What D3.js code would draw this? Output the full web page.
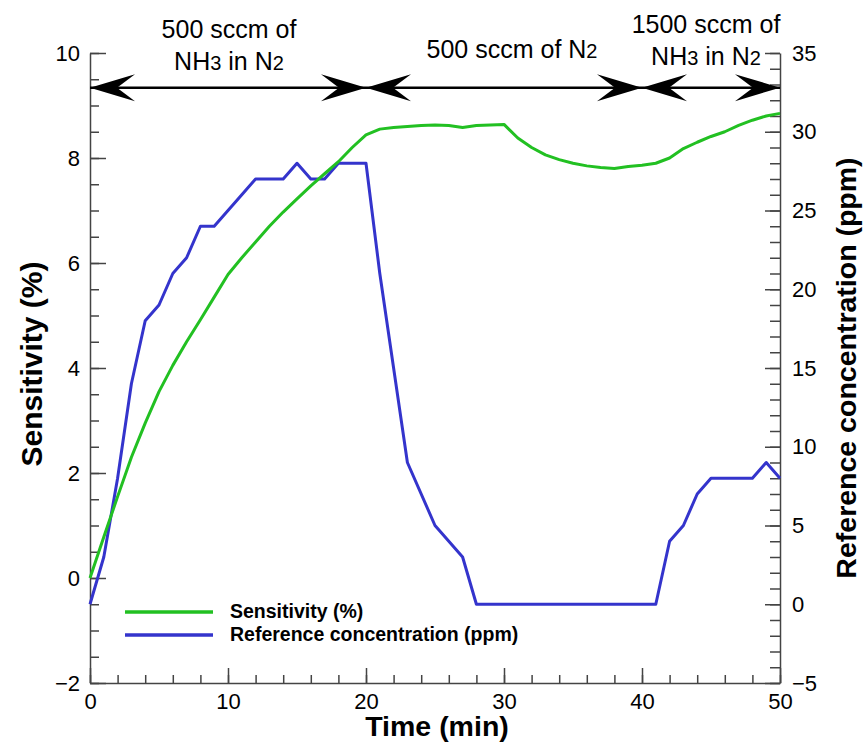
<!DOCTYPE html>
<html>
<head>
<meta charset="utf-8">
<script src="https://cdn.jsdelivr.net/npm/d3@7"></script>
<style>
  body { margin: 0; background: #fff; }
  svg { display: block; font-family: Arial, 'Liberation Sans', sans-serif; }
  .axis text { font-size: 22px; fill: #000; font-family: Arial, 'Liberation Sans', sans-serif; }
  .axis path, .axis line { stroke: #444; stroke-width: 1.5; }
</style>
</head>
<body>
<div id="chart"></div>
<script>
// Sensitivity (%) vs time (min)
const sensTime = d3.range(0, 51);
const sensValues = [
  0, 0.78, 1.55, 2.3, 2.95, 3.55, 4.05, 4.5, 4.92, 5.35,
  5.78, 6.1, 6.4, 6.7, 6.97, 7.22, 7.47, 7.7, 7.93, 8.2,
  8.44, 8.55, 8.58, 8.6, 8.62, 8.63, 8.62, 8.58, 8.62, 8.63,
  8.64, 8.38, 8.2, 8.06, 7.97, 7.9, 7.85, 7.82, 7.8, 7.84,
  7.86, 7.9, 8.0, 8.18, 8.3, 8.41, 8.5, 8.62, 8.72, 8.8, 8.85,
];

// Reference concentration (ppm) vs time (min)
const refTime = [0, 1, 2, 3, 4, 5, 6, 7, 8, 9, 10, 11, 12, 14, 15, 16, 17, 18, 20,
  21, 22, 23, 25, 27, 28, 41, 42, 43, 44, 45, 48, 49, 50];
const refValues = [0, 3, 8, 14, 18, 19, 21, 22, 24, 24, 25, 26, 27, 27, 28, 27, 27, 28, 28,
  21, 15, 9, 5, 3, 0, 0, 4, 5, 7, 8, 8, 9, 8];

// Gas phases (min) and their labels; "_" marks a subscript digit
const phaseStart = [0, 20, 40];
const phaseEnd = [20, 40, 50];
const phaseLabels = [
  ['500 sccm of', 'NH_3 in N_2'],
  ['500 sccm of N_2'],
  ['1500 sccm of', 'NH_3 in N_2'],
];

const xTicks = [0, 10, 20, 30, 40, 50];
const leftTicks = [-2, 0, 2, 4, 6, 8, 10];
const rightTicks = [-5, 0, 5, 10, 15, 20, 25, 30, 35];

const seriesNames = ['Sensitivity (%)', 'Reference concentration (ppm)'];
const seriesColors = ['#22c022', '#3434cc'];

const width = 863;
const height = 742;
const margin = { top: 53, right: 83, bottom: 59, left: 90 };

const svg = d3.select('#chart').append('svg')
  .attr('width', width)
  .attr('height', height);

const x = d3.scaleLinear().domain([0, 50]).range([margin.left, width - margin.right]);
const yL = d3.scaleLinear().domain([-2, 10]).range([height - margin.bottom, margin.top]);
const yR = d3.scaleLinear().domain([-5, 35]).range([height - margin.bottom, margin.top]);

// Minor ticks first
svg.append('g')
  .attr('class', 'axis')
  .attr('transform', `translate(0,${height - margin.bottom})`)
  .call(d3.axisBottom(x).tickValues(d3.range(0, 51, 2)).tickSize(-8).tickFormat(''))
  .call((g) => g.select('.domain').remove());
svg.append('g')
  .attr('class', 'axis')
  .attr('transform', `translate(${margin.left},0)`)
  .call(d3.axisLeft(yL).tickValues(d3.range(-2, 10.01, 0.5)).tickSize(-9).tickFormat(''))
  .call((g) => g.select('.domain').remove());
svg.append('g')
  .attr('class', 'axis')
  .attr('transform', `translate(${width - margin.right},0)`)
  .call(d3.axisRight(yR).tickValues(d3.range(-5, 35.01, 1)).tickSize(-10).tickFormat(''))
  .call((g) => g.select('.domain').remove());

// Major ticks + labels
svg.append('g')
  .attr('class', 'axis')
  .attr('transform', `translate(0,${height - margin.bottom})`)
  .call(d3.axisBottom(x).tickValues(xTicks).tickSizeInner(-15).tickSizeOuter(0).tickPadding(10));
svg.append('g')
  .attr('class', 'axis')
  .attr('transform', `translate(${margin.left},0)`)
  .call(d3.axisLeft(yL).tickValues(leftTicks).tickSizeInner(-16).tickSizeOuter(0).tickPadding(10));
svg.append('g')
  .attr('class', 'axis')
  .attr('transform', `translate(${width - margin.right},0)`)
  .call(d3.axisRight(yR).tickValues(rightTicks).tickSizeInner(-15).tickSizeOuter(0).tickPadding(12));

// Axis titles
svg.append('text')
  .attr('x', x(25) + 2)
  .attr('y', 736)
  .attr('text-anchor', 'middle')
  .attr('font-weight', 'bold')
  .attr('font-size', 28.5)
  .text('Time (min)');
svg.append('text')
  .attr('transform', `translate(42,${(yL(10) + yL(-2)) / 2 - 4}) rotate(-90)`)
  .attr('text-anchor', 'middle')
  .attr('font-weight', 'bold')
  .attr('font-size', 30)
  .text('Sensitivity (%)');
svg.append('text')
  .attr('transform', `translate(856,${(yR(35) + yR(-5)) / 2}) rotate(-90)`)
  .attr('text-anchor', 'middle')
  .attr('font-weight', 'bold')
  .attr('font-size', 28.5)
  .text('Reference concentration (ppm)');

// Data lines
const refLine = d3.line()
  .x((d, i) => x(refTime[i]))
  .y((d) => yR(d));
const sensLine = d3.line()
  .x((d, i) => x(sensTime[i]))
  .y((d) => yL(d));

svg.append('path')
  .datum(refValues)
  .attr('fill', 'none')
  .attr('stroke', seriesColors[1])
  .attr('stroke-width', 3)
  .attr('stroke-linejoin', 'round')
  .attr('d', refLine);
svg.append('path')
  .datum(sensValues)
  .attr('fill', 'none')
  .attr('stroke', seriesColors[0])
  .attr('stroke-width', 3)
  .attr('stroke-linejoin', 'round')
  .attr('d', sensLine);

// Phase arrows
const arrowY = yL(9.34);
const head = (tx, dir) => {
  const L = 45, N = 27, W = 13.5;
  return `M${tx},${arrowY}L${tx - dir * L},${arrowY - W}L${tx - dir * N},${arrowY}` +
    `L${tx - dir * L},${arrowY + W}Z`;
};
const arrows = svg.append('g');
phaseStart.forEach((s, i) => {
  const e = phaseEnd[i];
  arrows.append('line')
    .attr('x1', x(s)).attr('x2', x(e))
    .attr('y1', arrowY).attr('y2', arrowY)
    .attr('stroke', '#000')
    .attr('stroke-width', 2.5);
  arrows.append('path').attr('d', head(x(s), -1)).attr('fill', '#000');
  arrows.append('path').attr('d', head(x(e), 1)).attr('fill', '#000');
});

// Phase labels
const labelDx = [1, 8, -5];
const labelTop = [38, 58, 33];
phaseLabels.forEach((lines, i) => {
  const cx = x((phaseStart[i] + phaseEnd[i]) / 2) + labelDx[i];
  lines.forEach((str, j) => {
    const t = svg.append('text')
      .attr('x', cx)
      .attr('y', labelTop[i] + j * 32)
      .attr('text-anchor', 'middle')
      .attr('font-size', 25);
    str.split(/(_\d)/).filter((p) => p.length).forEach((p) => {
      if (p[0] === '_') t.append('tspan').attr('font-size', 20).text(p.slice(1));
      else t.append('tspan').text(p);
    });
  });
});

// Legend
const legend = svg.append('g');
seriesNames.forEach((name, i) => {
  const ly = 612 + i * 23;
  legend.append('line')
    .attr('x1', 125).attr('x2', 213)
    .attr('y1', ly).attr('y2', ly)
    .attr('stroke', seriesColors[i])
    .attr('stroke-width', 3.5);
  legend.append('text')
    .attr('x', 230)
    .attr('y', ly + 6)
    .attr('font-size', 19.5)
    .attr('font-weight', 'bold')
    .text(name);
});
</script>
</body>
</html>
